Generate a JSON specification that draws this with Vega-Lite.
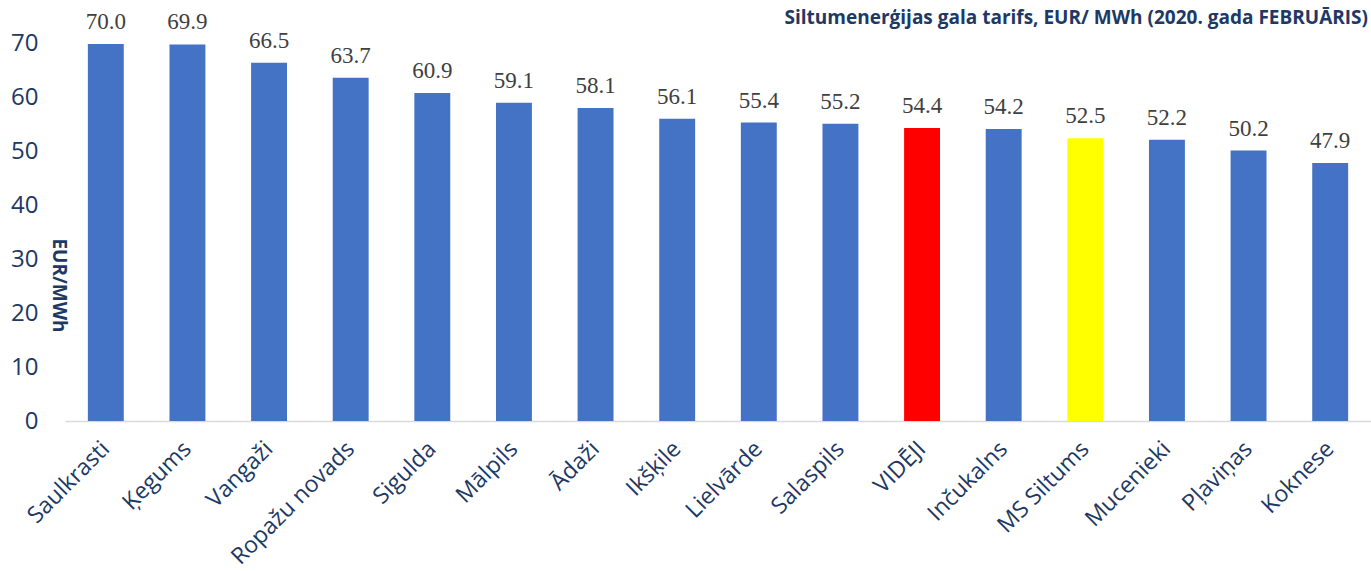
{
  "$schema": "https://vega.github.io/schema/vega-lite/v6.json",
  "width": 1306,
  "height": 404,
  "autosize": {"type": "none"},
  "padding": {"left": 65, "top": 17, "right": 0, "bottom": 150},
  "background": "white",
  "config": {"view": {"stroke": null}},
  "title": {
    "text": "Siltumenerģijas gala tarifs, EUR/ MWh (2020. gada FEBRUĀRIS)",
    "anchor": "end",
    "frame": "group",
    "orient": "top",
    "offset": 0,
    "dy": 17,
    "dx": -3,
    "font": "Open Sans",
    "fontSize": 19,
    "fontWeight": "bold",
    "color": "#203864"
  },
  "data": {
    "values": [
      {"name": "Saulkrasti", "value": 70.0},
      {"name": "Ķegums", "value": 69.9},
      {"name": "Vangaži", "value": 66.5},
      {"name": "Ropažu novads", "value": 63.7},
      {"name": "Sigulda", "value": 60.9},
      {"name": "Mālpils", "value": 59.1},
      {"name": "Ādaži", "value": 58.1},
      {"name": "Ikšķile", "value": 56.1},
      {"name": "Lielvārde", "value": 55.4},
      {"name": "Salaspils", "value": 55.2},
      {"name": "VIDĒJI", "value": 54.4},
      {"name": "Inčukalns", "value": 54.2},
      {"name": "MS Siltums", "value": 52.5},
      {"name": "Mucenieki", "value": 52.2},
      {"name": "Pļaviņas", "value": 50.2},
      {"name": "Koknese", "value": 47.9}
    ]
  },
  "encoding": {
    "x": {
      "field": "name",
      "type": "nominal",
      "sort": null,
      "scale": {"paddingInner": 0.56, "paddingOuter": 0.28},
      "axis": {
        "title": null,
        "labelAngle": -45,
        "labelAlign": "right",
        "labelBaseline": "middle",
        "labelFont": "Open Sans",
        "labelFontSize": 23,
        "labelColor": "#203864",
        "labelPadding": 24,
        "ticks": false,
        "domainColor": "#d9d9d9",
        "domainWidth": 1.5
      }
    },
    "y": {
      "field": "value",
      "type": "quantitative",
      "scale": {"domain": [0, 75], "nice": false},
      "axis": {
        "title": "EUR/MWh",
        "titleAngle": 90,
        "titleFont": "Open Sans",
        "titleFontSize": 19,
        "titleFontWeight": "bold",
        "titleColor": "#203864",
        "titleX": -13,
        "titleY": 268,
        "titleAlign": "center",
        "titleBaseline": "alphabetic",
        "values": [0, 10, 20, 30, 40, 50, 60, 70],
        "labelFont": "Open Sans",
        "labelFontSize": 24,
        "labelColor": "#203864",
        "labelPadding": 27,
        "ticks": false,
        "domain": false,
        "grid": false
      }
    }
  },
  "layer": [
    {
      "mark": {"type": "bar"},
      "encoding": {
        "color": {
          "condition": [
            {"test": "datum.name === 'VIDĒJI'", "value": "#FF0000"},
            {"test": "datum.name === 'MS Siltums'", "value": "#FFFF00"}
          ],
          "value": "#4472C4"
        }
      }
    },
    {
      "mark": {"type": "text", "dy": -22, "font": "Liberation Serif", "fontSize": 23, "color": "#404040"},
      "encoding": {
        "text": {"field": "value", "type": "quantitative", "format": ".1f"}
      }
    }
  ]
}
